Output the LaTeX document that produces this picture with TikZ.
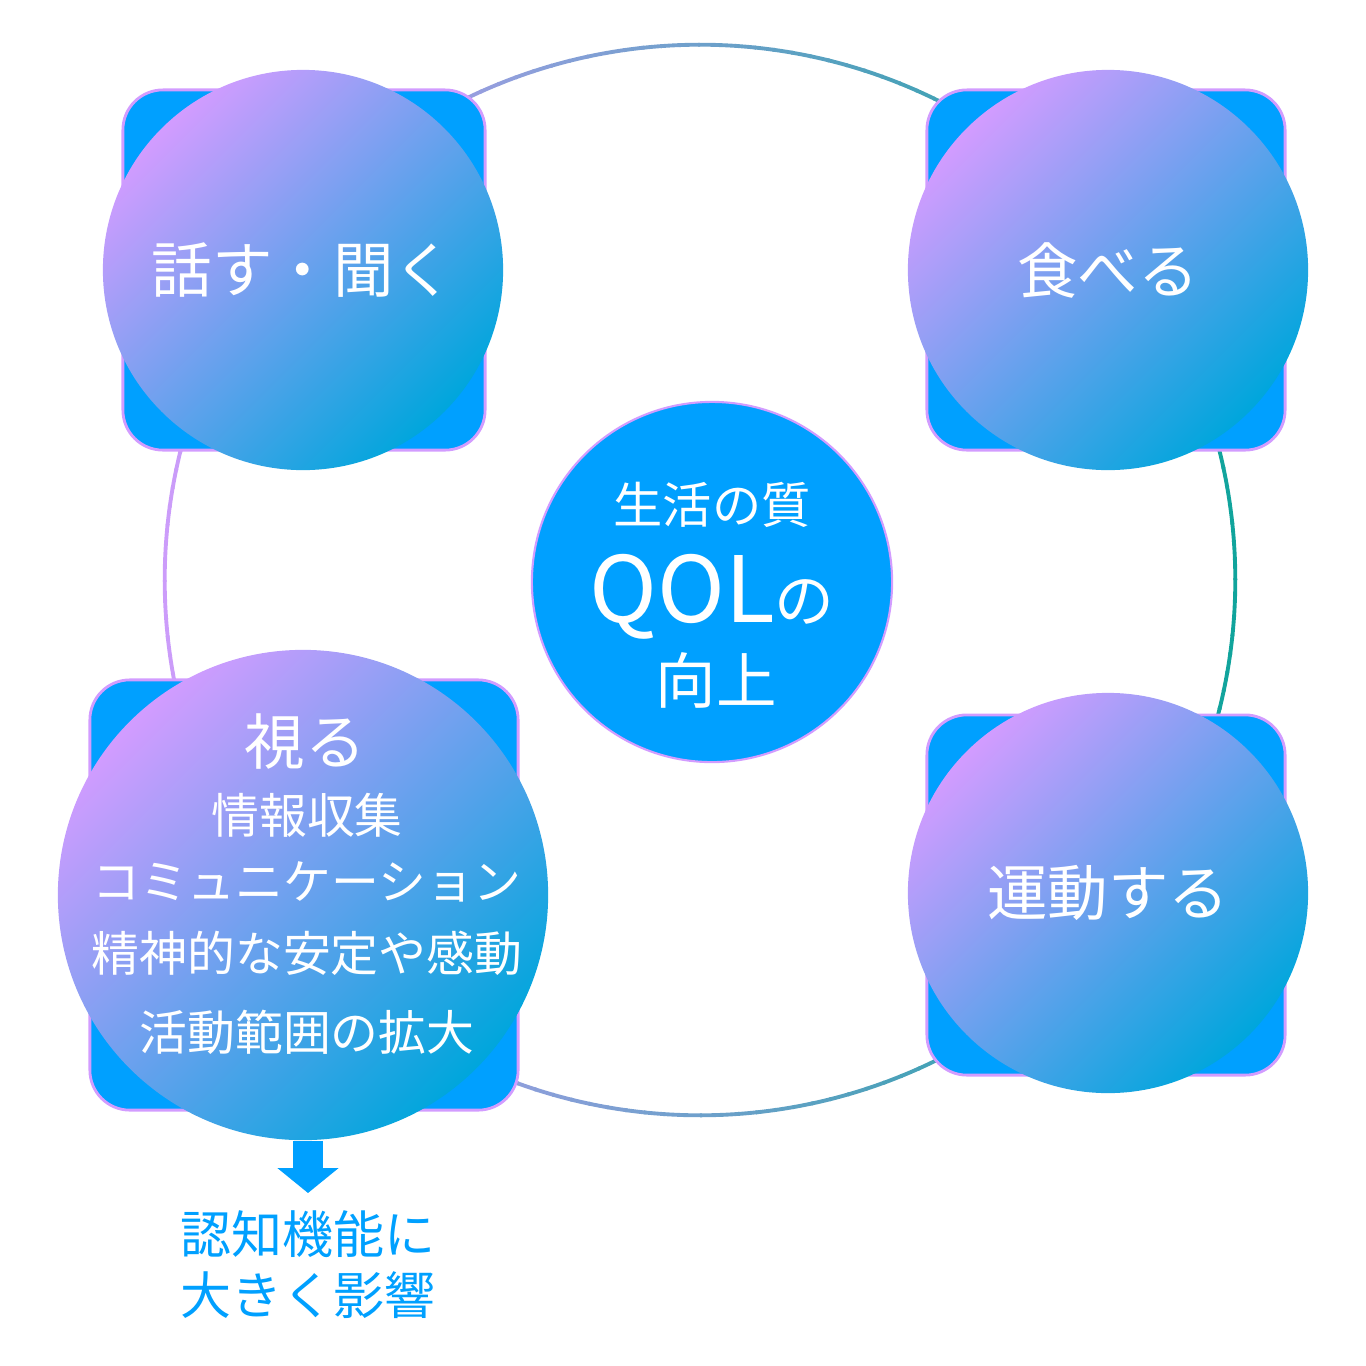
\documentclass[tikz,border=0pt]{standalone}
\usepackage{fontspec}
\setmainfont{Noto Sans CJK JP}
\usetikzlibrary{positioning,arrows.meta}
\definecolor{boxblue}{HTML}{00A0FF}
\definecolor{lilac}{HTML}{D29CFF}
\definecolor{seablue}{HTML}{00A6DC}
\definecolor{ringteal}{HTML}{10A49C}
\definecolor{ringpurple}{HTML}{CC9CFA}
\tikzstyle{tile}=[rectangle, draw=lilac, line width=0.8pt, fill=boxblue, rounded corners=0.4cm]
\tikzstyle{bubble}=[circle, top color=lilac, bottom color=seablue, shading angle=45, text=white, inner sep=0pt]
\tikzstyle{big}=[text=white, font=\fontsize{17.2}{19}\selectfont]
\tikzstyle{small}=[text=white, font=\fontsize{13.6}{15}\selectfont]
\begin{document}
\begin{tikzpicture}[x=0.01cm, y=-0.01cm]
        \useasboundingbox (0,0) rectangle (1366,1366);
        % ring behind everything
        \foreach \a in {0,2,...,358}{
          \pgfmathsetmacro{\p}{50+50*cos(\a+1)}
          \draw[ringteal!\p!ringpurple, line width=1.1pt] (700,580) ++(\a:5.35cm) arc[start angle=\a, end angle=\a+2.2, radius=5.35cm];
        }
        % tiles
        \node (TalkTile) [tile, minimum width=3.62cm, minimum height=3.6cm] at (304,270) {};
        \node (EatTile) [tile, minimum width=3.58cm, minimum height=3.6cm] at (1106,270) {};
        \node (SeeTile) [tile, minimum width=4.28cm, minimum height=4.3cm] at (304,895) {};
        \node (MoveTile) [tile, minimum width=3.58cm, minimum height=3.6cm] at (1106,895) {};
        % bubbles
        \node (Talk) [bubble, minimum size=4cm, big] at (303,270) {話す・聞く};
        \node (Eat) [bubble, minimum size=4cm, big] at (1108,270) {食べる};
        \node (See) [bubble, minimum size=4.9cm] at (303,895) {};
        \node (Move) [bubble, minimum size=4cm, big] at (1108,893) {運動する};
        % center
        \node (Core) [circle, fill=boxblue, draw=lilac, line width=0.6pt, minimum size=3.6cm] at (712,582) {};
        \node (CoreTop) [text=white, font=\fontsize{14}{16}\selectfont] at (712,505) {生活の質};
        \node (CoreMid) [text=white] at (712,597) {\fontsize{26}{28}\selectfont QOL\fontsize{17}{18}\selectfont の};
        \node (CoreBot) [big] at (716,680) {向上};
        % lines in the lower left bubble
        \node (SeeHead) [big] at (305,742) {視る};
        \node (SeeA) [small] at (307,815) {情報収集};
        \node (SeeB) [small] at (307,882) {コミュニケーション};
        \node (SeeC) [small] at (307,953) {精神的な安定や感動};
        \node (SeeD) [small] at (307,1032) {活動範囲の拡大};
        % arrow out
        \coordinate (ArrowEnd) at (308,1193);
        \draw[-{Triangle[length=0.25cm,width=0.6cm]}, boxblue, line width=0.3cm] (See.south -| ArrowEnd) -- (ArrowEnd);
        \node (Effect) [text=boxblue, font=\fontsize{14.5}{17.5}\selectfont, align=center, below=0.05cm of ArrowEnd] {認知機能に\\大きく影響};
\end{tikzpicture}
\end{document}
